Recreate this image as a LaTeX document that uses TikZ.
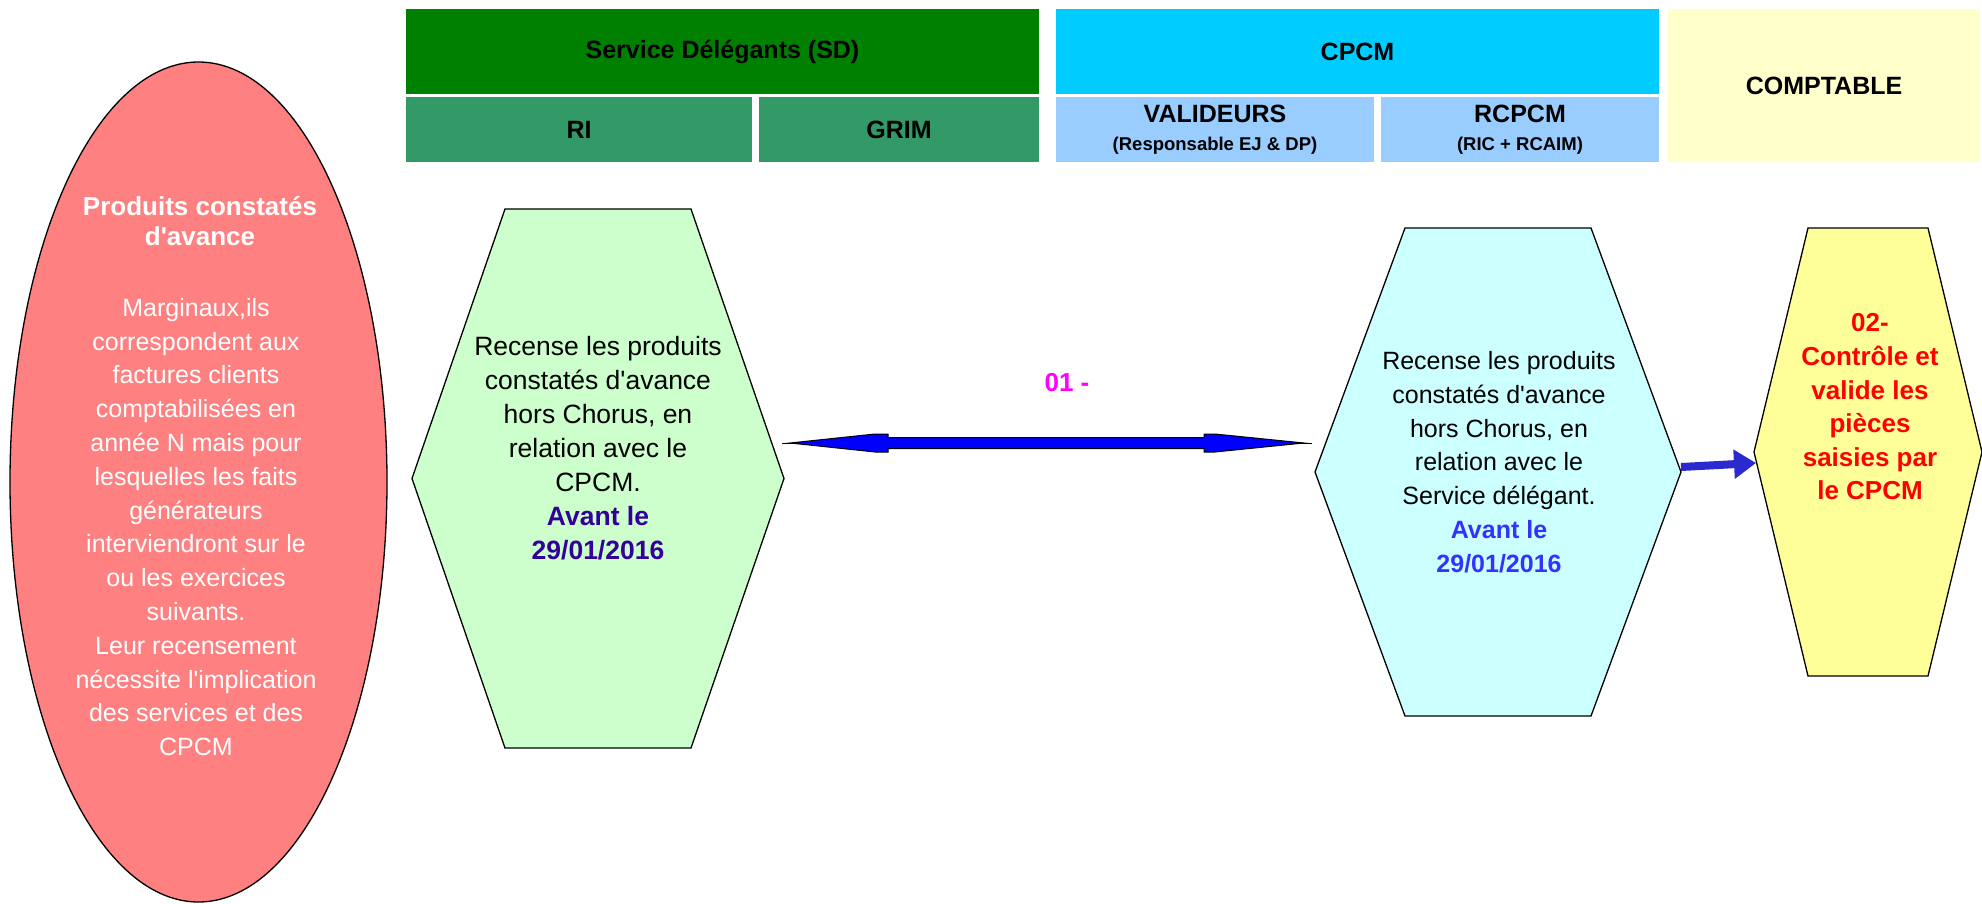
\documentclass[tikz,border=0pt]{standalone}
\usepackage{fontspec}
\setmainfont{Liberation Sans}
\usetikzlibrary{calc,arrows.meta,shapes.geometric}
\definecolor{sdgreen}{HTML}{008000}
\definecolor{subgreen}{HTML}{339966}
\definecolor{cpcmblue}{HTML}{00CCFF}
\definecolor{subblue}{HTML}{99CCFF}
\definecolor{comptyellow}{HTML}{FFFFCC}
\definecolor{hexgreen}{HTML}{CCFFCC}
\definecolor{hexcyan}{HTML}{CCFFFF}
\definecolor{hexyellow}{HTML}{FFFF99}
\definecolor{salmonfill}{HTML}{FF8080}
\definecolor{dateindigo}{HTML}{330099}
\definecolor{dateblue}{HTML}{3333FF}
\definecolor{arrowblue}{HTML}{2A2AD0}
\definecolor{magentalbl}{HTML}{FF00FF}
\definecolor{redtxt}{HTML}{FF0000}
\newcommand\drawhex[3]{%
  \filldraw[fill=#3, draw=black, line width=1.3pt, line join=miter]
    ($(#1.north)+(-#2,0)$) -- ($(#1.north)+(#2,0)$) -- (#1.east) --
    ($(#1.south)+(#2,0)$) -- ($(#1.south)+(-#2,0)$) -- (#1.west) -- cycle;}
\newcommand\apos{\textquotesingle}
\begin{document}
\begin{tikzpicture}[x=1pt,y=-1pt,
  hbox/.style={inner sep=0pt, outer sep=0pt, align=center,
    font=\fontsize{25}{30}\selectfont\bfseries},
  bound/.style={inner sep=0pt, outer sep=0pt},
  bodytxt/.style={inner sep=0pt, align=center,
    font=\fontsize{26.5}{34}\selectfont}
]
\useasboundingbox (0,0) rectangle (1982,904);

% ---- header ----
\node[hbox, fill=sdgreen, minimum width=633pt, minimum height=85pt] (sd) at (722.5,51.5) {Service Délégants (SD)};
\node[hbox, fill=subgreen, minimum width=346pt, minimum height=65pt] (ri) at (579,129.5) {RI};
\node[hbox, fill=subgreen, minimum width=280pt, minimum height=65pt] (grim) at (899,129.5) {GRIM};
\node[hbox, fill=cpcmblue, minimum width=603pt, minimum height=85pt] (cpcm) at (1357.5,51.5) {CPCM};
\node[hbox, fill=subblue, minimum width=318pt, minimum height=65pt] (val) at (1215,129.5)
  {VALIDEURS\\[-2pt]{\fontsize{18.5}{22}\selectfont (Responsable EJ \& DP)}};
\node[hbox, fill=subblue, minimum width=278pt, minimum height=65pt] (rcpcm) at (1520,129.5)
  {RCPCM\\[-2pt]{\fontsize{18.5}{22}\selectfont (RIC + RCAIM)}};
\node[hbox, fill=comptyellow, minimum width=312pt, minimum height=153pt] (compt) at (1824,85.5) {COMPTABLE};

% ---- ellipse ----
\node[ellipse, draw=black, line width=1.3pt, fill=salmonfill, inner sep=0pt,
      minimum width=377pt, minimum height=840pt] (el) at (198.5,482) {};
\node[inner sep=0pt, align=center, text=white, font=\fontsize{26}{30}\selectfont\bfseries] (elh) at (200,221)
  {Produits constatés\\d\apos avance};
\node[inner sep=0pt, align=center, text=white, font=\fontsize{25}{33.8}\selectfont] (elb) at (196,527)
  {Marginaux,ils\\correspondent aux\\factures clients\\comptabilisées en\\année N mais pour\\lesquelles les faits\\générateurs\\interviendront sur le\\ou les exercices\\suivants.\\Leur recensement\\nécessite l\apos implication\\des services et des\\CPCM};

% ---- hexagons ----
\node[bound, minimum width=372pt, minimum height=539pt] (g) at (598,478.5) {};
\drawhex{g}{93}{hexgreen}
\node[bound, minimum width=366pt, minimum height=488pt] (c) at (1498,472) {};
\drawhex{c}{93}{hexcyan}
\node[bound, minimum width=228pt, minimum height=448pt] (y) at (1868,452) {};
\drawhex{y}{60}{hexyellow}

\node[bodytxt] (gt) at (598,448)
  {Recense les produits\\constatés d\apos avance\\hors Chorus, en\\relation avec le\\CPCM.\\
   \textcolor{dateindigo}{\textbf{Avant le}}\\\textcolor{dateindigo}{\textbf{29/01/2016}}};
\node[bodytxt, font=\fontsize{25}{33.8}\selectfont] (ct) at (1499,462)
  {Recense les produits\\constatés d\apos avance\\hors Chorus, en\\relation avec le\\Service délégant.\\
   \textcolor{dateblue}{\textbf{Avant le}}\\\textcolor{dateblue}{\textbf{29/01/2016}}};
\node[inner sep=0pt, align=center, text=redtxt, font=\fontsize{26}{33.6}\selectfont\bfseries] (yt) at (1870,407)
  {02-\\Contrôle et\\valide les\\pièces\\saisies par\\le CPCM};

% ---- label ----
\node[inner sep=0pt, text=magentalbl, font=\fontsize{26}{30}\selectfont\bfseries] (lbl) at (1067,383) {01 -};

% ---- double arrow between g and c ----
\coordinate (da1) at ($(g.east)+(-2,-35.5)$);
\coordinate (da2) at ($(c.west)+(-3,-29)$);
\draw[black, line width=1pt] (da1) -- (da2);
\filldraw[fill=blue, draw=black, line width=1pt, line join=miter]
  ($(da1)+(8,0)$) -- ($(da1)+(93,-9)$) -- ($(da1)+(106,-9)$) -- ($(da1)+(106,-5.5)$) --
  ($(da2)+(-108,-5.5)$) -- ($(da2)+(-108,-9)$) -- ($(da2)+(-97,-9)$) -- ($(da2)+(-8,0)$) --
  ($(da2)+(-97,9)$) -- ($(da2)+(-108,9)$) -- ($(da2)+(-108,5.5)$) --
  ($(da1)+(106,5.5)$) -- ($(da1)+(106,9)$) -- ($(da1)+(93,9)$) -- cycle;

% ---- arrow c -> y ----
\coordinate (ar2) at ($(y.west)+(2,11)$);
\draw[arrowblue, line width=8pt, -{Triangle[length=22pt,width=28pt]}]
  ($(c.east)+(0,-5)$) -- (ar2);
\end{tikzpicture}
\end{document}
